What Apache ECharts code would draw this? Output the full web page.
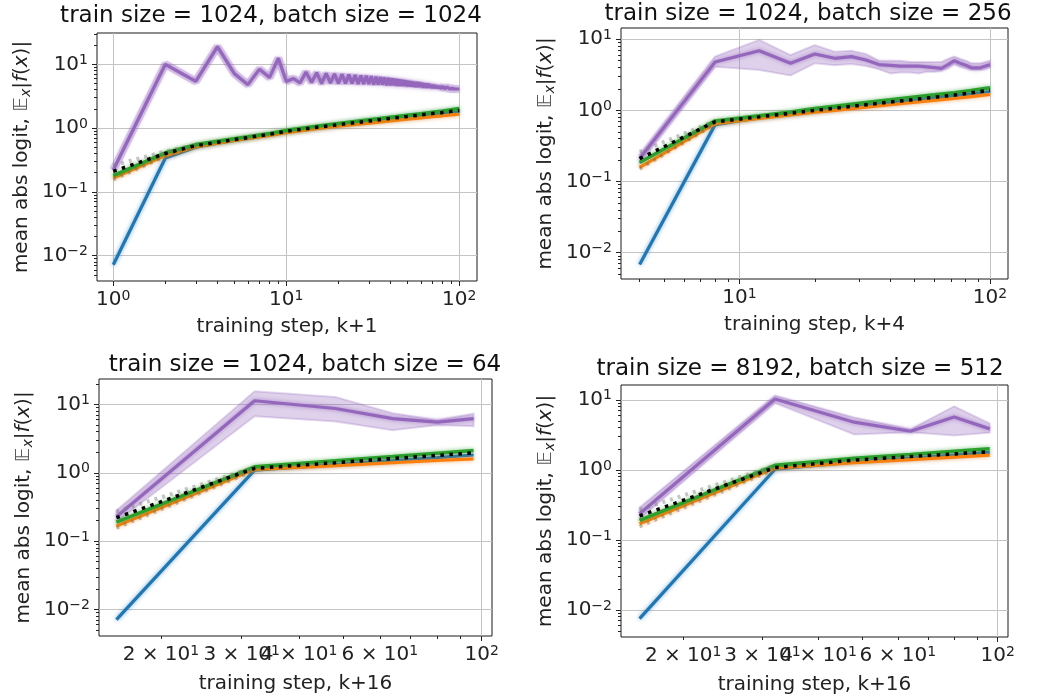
<!DOCTYPE html>
<html lang="en">
<head>
<meta charset="UTF-8">
<title>mean abs logit</title>
<script src="https://cdn.jsdelivr.net/npm/echarts@6/dist/echarts.min.js"></script>
<style>html,body{margin:0;background:#fff}#main{width:1041px;height:700px}</style>
</head>
<body>
<div id="main"></div>
<script>
// ---- panel 1: train 1024, batch 1024 (x = k+1)
const steps1 = [1,2,3,4,5,6,7,8,9,10,11,12,13,14,15,16,17,18,19,20,21,22,23,24,25,26,27,28,29,30,
  31,32,33,34,35,36,37,38,39,40,41,42,43,44,45,46,47,48,49,50,51,52,53,54,55,56,57,58,59,60,
  61,62,63,64,65,66,67,68,69,70,71,72,73,74,75,76,77,78,79,80,81,82,83,84,85,86,87,88,89,90,
  91,92,93,94,95,96,97,98,99,100];
const purple1 = [0.22,10.0,5.4,19.0,7.2,4.8,8.4,6.2,12.5,5.4,6.0,5.1,7.6,5.2,7.4,5.0,7.2,5.1,7.1,5.0,
  7.0,5.0,6.9,5.0,6.8,4.9,6.7,4.9,6.6,4.9,6.5,4.8,6.4,4.8,6.3,4.8,6.2,4.7,6.1,4.7,
  6.0,4.7,5.9,4.6,5.8,4.6,5.7,4.6,5.6,4.5,5.5,4.5,5.4,4.5,5.3,4.4,5.3,4.4,5.2,4.4,
  5.1,4.3,5.0,4.3,5.0,4.3,4.9,4.3,4.8,4.2,4.8,4.2,4.7,4.2,4.6,4.2,4.6,4.2,4.5,4.1,
  4.5,4.1,4.4,4.1,4.4,4.1,4.3,4.1,4.3,4.1,4.2,4.1,4.2,4.1,4.2,4.1,4.1,4.1,4.1,4.1];
const smooth1 = [1,2,3,4,5,6,8,10,15,20,30,40,50,60,70,80,90,100];
const blue1   = [0.0072,0.34,0.50,0.58,0.64,0.69,0.78,0.86,1.00,1.10,1.27,1.39,1.49,1.58,1.65,1.72,1.79,1.85];
const orange1 = [0.165,0.37,0.51,0.58,0.64,0.69,0.77,0.85,0.98,1.07,1.20,1.30,1.38,1.45,1.51,1.56,1.61,1.65];
const green1  = [0.18,0.41,0.55,0.62,0.68,0.73,0.82,0.92,1.07,1.18,1.35,1.48,1.59,1.68,1.77,1.85,1.93,2.02];
const black1  = [0.21,0.40,0.53,0.60,0.66,0.71,0.80,0.89,1.03,1.13,1.29,1.42,1.52,1.61,1.69,1.76,1.83,1.88];
const greyX1 = [1,2,3];
const greyHi1 = [0.26,0.43,0.55];
const greyLo1 = [0.155,0.36,0.50];

// ---- panel 2: train 1024, batch 256 (x = k+4)
const steps2 = [4,8,12,16,20,24,28,32,36,40,44,48,52,56,60,64,68,72,76,80,84,88,92,96,100];
const purple2   = [0.21,4.8,6.9,4.6,6.2,5.4,5.7,5.1,4.4,4.3,4.2,4.2,4.2,4.1,4.0,3.9,4.4,5.0,4.6,4.3,4.0,3.95,4.0,4.2,4.4];
const purpleHi2 = [0.24,5.7,9.8,6.0,8.3,6.7,6.9,6.2,5.0,5.0,5.0,4.8,4.8,4.8,4.8,4.8,5.3,5.7,5.3,5.0,4.6,4.6,4.6,4.8,5.0];
const purpleLo2 = [0.18,4.1,3.7,3.1,4.6,4.3,4.5,4.2,3.8,3.3,3.4,3.4,3.3,3.5,3.5,3.6,3.9,4.5,4.1,3.9,3.7,3.7,3.7,3.8,4.0];
const smooth2 = [4,8,12,16,20,24,32,40,48,60,72,84,100];
const blue2   = [0.0068,0.63,0.79,0.88,0.97,1.04,1.17,1.28,1.37,1.50,1.61,1.71,1.84];
const orange2 = [0.158,0.65,0.77,0.86,0.94,1.00,1.11,1.20,1.28,1.38,1.47,1.56,1.67];
const green2  = [0.185,0.71,0.84,0.95,1.06,1.14,1.29,1.41,1.52,1.65,1.77,1.90,2.08];
const black2  = [0.21,0.69,0.81,0.91,1.00,1.07,1.20,1.31,1.40,1.53,1.64,1.76,1.92];
const greyX2 = [4,8];
const greyHi2 = [0.26,0.71];
const greyLo2 = [0.15,0.64];

// ---- panel 3: train 1024, batch 64 (x = k+16)
const steps3 = [16,32,48,64,80,96];
const purple3   = [0.227,11.3,8.7,6.2,5.5,6.2];
const purpleHi3 = [0.28,15.5,12.8,7.4,5.9,7.3];
const purpleLo3 = [0.19,6.7,5.6,4.2,5.0,4.8];
const blue3   = [0.0071,1.09,1.32,1.50,1.66,1.82];
const orange3 = [0.167,1.12,1.27,1.40,1.51,1.60];
const green3  = [0.19,1.22,1.50,1.72,1.93,2.12];
const black3  = [0.22,1.16,1.40,1.62,1.79,1.96];
const greyX3 = [16,32];
const greyHi3 = [0.27,1.20];
const greyLo3 = [0.155,1.08];

// ---- panel 4: train 8192, batch 512 (x = k+16)
const steps4 = [16,32,48,64,80,96];
const purple4   = [0.236,10.3,4.8,3.56,5.7,3.85];
const purpleHi4 = [0.29,11.5,5.6,3.8,8.1,4.6];
const purpleLo4 = [0.20,9.0,3.2,3.45,3.1,3.4];
const blue4   = [0.0075,1.02,1.30,1.47,1.62,1.78];
const orange4 = [0.17,1.06,1.27,1.40,1.52,1.62];
const green4  = [0.19,1.16,1.46,1.66,1.84,2.00];
const black4  = [0.22,1.08,1.38,1.55,1.69,1.82];
const greyX4 = [16,32];
const greyHi4 = [0.27,1.15];
const greyLo4 = [0.155,1.02];

// tick values
const xMajor12 = [1, 10, 100];
const xMinor12 = [2,3,4,5,6,7,8,9,20,30,40,50,60,70,80,90];
const xLabels34 = [20, 30, 40, 60, 100];
const xMajor34 = [100];
const xMinor34 = [20,30,40,50,60,70,80,90];
const yMajor = [0.01, 0.1, 1, 10];
const yMinor = [0.005,0.006,0.007,0.008,0.009,0.02,0.03,0.04,0.05,0.06,0.07,0.08,0.09,
  0.2,0.3,0.4,0.5,0.6,0.7,0.8,0.9,2,3,4,5,6,7,8,9,20,30];

const titles = ['train size = 1024, batch size = 1024', 'train size = 1024, batch size = 256',
  'train size = 1024, batch size = 64', 'train size = 8192, batch size = 512'];
const xNames = ['training step, k+1', 'training step, k+4', 'training step, k+16', 'training step, k+16'];

const panels = [
  {box: [97, 33, 380, 248], x: [0.805, 126.6], y: [0.004, 31], t: [271, 16], ng: 36,
   xMaj: xMajor12, xLab: xMajor12, xMin: xMinor12, steps: steps1, purple: purple1,
   sx: smooth1, blue: blue1, orange: orange1, green: green1, black: black1, gx: greyX1, ghi: greyHi1, glo: greyLo1},
  {box: [621, 28, 387, 251], x: [3.37, 118], y: [0.00425, 14.4], t: [808, 14], ng: 36,
   xMaj: xMajor12, xLab: xMajor12, xMin: xMinor12, steps: steps2, purple: purple2, hi: purpleHi2, lo: purpleLo2,
   sx: smooth2, blue: blue2, orange: orange2, green: green2, black: black2, gx: greyX2, ghi: greyHi2, glo: greyLo2},
  {box: [99, 379, 393, 257], x: [14.66, 105.3], y: [0.0041, 23.5], t: [305, 365], ng: 38,
   xMaj: xMajor34, xLab: xLabels34, xMin: xMinor34, steps: steps3, purple: purple3, hi: purpleHi3, lo: purpleLo3,
   sx: steps3, blue: blue3, orange: orange3, green: green3, black: black3, gx: greyX3, ghi: greyHi3, glo: greyLo3},
  {box: [621, 385, 387, 252], x: [14.55, 105.4], y: [0.0041, 16.3], t: [800, 369], ng: 38,
   xMaj: xMajor34, xLab: xLabels34, xMin: xMinor34, steps: steps4, purple: purple4, hi: purpleHi4, lo: purpleLo4,
   sx: steps4, blue: blue4, orange: orange4, green: green4, black: black4, gx: greyX4, ghi: greyHi4, glo: greyLo4}
];

const FONT = 'DejaVu Sans';
const rich = {
  b: {fontSize: 20, fontFamily: FONT, color: '#222'},
  s: {fontSize: 14, fontFamily: FONT, color: '#222', verticalAlign: 'top', padding: [0, 0, 8, 0]}
};

function powLabel(v) {
  const e = Math.floor(Math.log10(v) + 1e-9);
  const m = Math.round(v / Math.pow(10, e));
  const es = e < 0 ? '\u2212' + (-e) : String(e);
  return (m === 1 ? '{b|10}' : '{b|' + m + ' \u00d7 10}') + '{s|' + es + '}';
}

function zip(xs, ys) {
  return xs.map((x, i) => [x, ys[i]]);
}

const inRange = (vals, r) => vals.filter(v => v >= r[0] && v <= r[1]);

const grids = [], xAxes = [], yAxes = [], series = [], graphics = [];

panels.forEach((p, i) => {
  grids.push({left: p.box[0], top: p.box[1], width: p.box[2], height: p.box[3],
    show: true, borderColor: '#1a1a1a', borderWidth: 1, backgroundColor: 'transparent'});

  // main axes: labels, major ticks, grid lines
  xAxes.push({type: 'log', gridIndex: i, position: 'bottom', min: p.x[0], max: p.x[1], logBase: 10,
    name: xNames[i], nameLocation: 'middle', nameGap: p.ng,
    nameTextStyle: {fontSize: 20, fontFamily: FONT, color: '#222'},
    axisLine: {show: false},
    axisTick: {show: true, length: 5, lineStyle: {color: '#222'}, customValues: inRange(p.xMaj, p.x)},
    axisLabel: {margin: 8, formatter: powLabel, rich: rich, customValues: inRange(p.xLab, p.x)},
    splitLine: {show: true, lineStyle: {color: '#c4c4c4', width: 1}}
  });
  // minor ticks
  xAxes.push({type: 'log', gridIndex: i, position: 'bottom', offset: 0, min: p.x[0], max: p.x[1], logBase: 10,
    axisLine: {show: false}, axisLabel: {show: false}, splitLine: {show: false},
    axisTick: {show: true, length: 3, lineStyle: {color: '#222'}, customValues: inRange(p.xMin, p.x)}
  });
  yAxes.push({type: 'log', gridIndex: i, position: 'left', min: p.y[0], max: p.y[1], logBase: 10,
    name: '{n|mean abs logit, }{e|\ud835\udd3c}{sb|x}{n||}{i|f}{n|(}{i|x}{n|)|}',
    nameLocation: 'middle', nameGap: 64, nameRotate: 90,
    nameTextStyle: {fontSize: 20, fontFamily: FONT, color: '#222', rich: {
      n: {fontSize: 20, fontFamily: FONT, color: '#222'},
      e: {fontSize: 20, fontFamily: FONT, color: '#555', fontStyle: 'italic'},
      sb: {fontSize: 14, fontFamily: FONT, color: '#222', fontStyle: 'italic', verticalAlign: 'bottom', padding: [8, 0, 0, 0]},
      i: {fontSize: 20, fontFamily: FONT, color: '#222', fontStyle: 'italic'}
    }},
    axisLine: {show: false},
    axisTick: {show: true, length: 5, lineStyle: {color: '#222'}, customValues: inRange(yMajor, p.y)},
    axisLabel: {margin: 9, formatter: powLabel, rich: rich, customValues: inRange(yMajor, p.y)},
    splitLine: {show: true, lineStyle: {color: '#c4c4c4', width: 1}}
  });
  yAxes.push({type: 'log', gridIndex: i, position: 'left', offset: 0, min: p.y[0], max: p.y[1], logBase: 10,
    axisLine: {show: false}, axisLabel: {show: false}, splitLine: {show: false},
    axisTick: {show: true, length: 3, lineStyle: {color: '#222'}, customValues: inRange(yMinor, p.y)}
  });

  const xi = 2 * i, yi = 2 * i;
  const line = (data, style) => ({
    type: 'line', xAxisIndex: xi, yAxisIndex: yi, data: data, showSymbol: false, symbol: 'none',
    animation: false, silent: true, lineStyle: style
  });

  // purple spread band
  if (p.hi) {
    const hiPts = zip(p.steps, p.hi), loPts = zip(p.steps, p.lo);
    series.push({
      type: 'custom', xAxisIndex: xi, yAxisIndex: yi, silent: true, animation: false,
      data: [[p.steps[0], p.purple[0]]],
      renderItem: (params, api) => {
        const pts = hiPts.map(d => api.coord(d)).concat(loPts.slice().reverse().map(d => api.coord(d)));
        return {type: 'polygon', shape: {points: pts},
          style: {fill: 'rgba(148,103,189,0.3)', stroke: 'rgba(148,103,189,0.25)', lineWidth: 2}};
      }
    });
  } else {
    // wide faint stroke standing in for the spread of the jagged run
    series.push(line(zip(p.steps, p.purple), {color: 'rgba(148,103,189,0.3)', width: 8}));
  }

  series.push(line(zip(p.sx, p.blue), {color: '#1f77b4', width: 3.2, shadowColor: 'rgba(31,119,180,0.6)', shadowBlur: 4}));
  series.push(line(zip(p.sx, p.orange), {color: '#ff7f0e', width: 3.2, shadowColor: 'rgba(255,127,14,0.6)', shadowBlur: 4}));
  series.push(line(zip(p.sx, p.green), {color: '#2ca02c', width: 3.6, shadowColor: 'rgba(44,160,44,0.6)', shadowBlur: 4}));
  series.push(line(zip(p.steps, p.purple), {color: '#9467bd', width: 3.2, shadowColor: 'rgba(148,103,189,0.7)', shadowBlur: 4}));
  // grey spread (dotted edges)
  series.push(line(zip(p.gx, p.ghi), {color: 'rgba(128,128,128,0.45)', width: 4, type: [3, 5]}));
  series.push(line(zip(p.gx, p.glo), {color: 'rgba(110,100,80,0.4)', width: 3.5, type: [3, 5]}));
  series.push(line(zip(p.sx, p.black), {color: '#000', width: 3.5, type: [3.5, 5.5]}));

  graphics.push({type: 'text', x: p.t[0], y: p.t[1],
    style: {text: titles[i], font: '23px "DejaVu Sans"', fill: '#111', align: 'center', verticalAlign: 'middle'}});
});

const chart = echarts.init(document.getElementById('main'));
chart.setOption({
  backgroundColor: '#fff',
  animation: false,
  grid: grids,
  xAxis: xAxes,
  yAxis: yAxes,
  series: series,
  graphic: graphics
});
</script>
</body>
</html>
